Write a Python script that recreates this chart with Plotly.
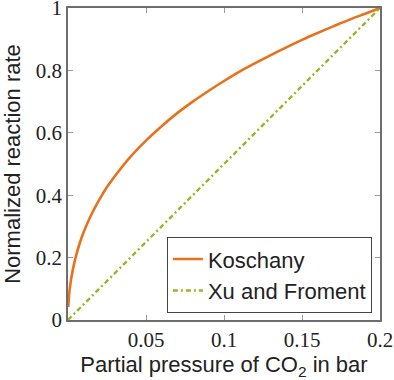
import plotly.graph_objects as go

# Data
koschany_p = [0.0002, 0.0005, 0.001, 0.002, 0.003, 0.005, 0.0075, 0.01, 0.015, 0.02,
              0.025, 0.03, 0.04, 0.05, 0.06, 0.07, 0.08, 0.09, 0.10, 0.11,
              0.12, 0.13, 0.14, 0.15, 0.16, 0.17, 0.18, 0.19, 0.20]
koschany_r = [0.042, 0.067, 0.094, 0.131, 0.159, 0.203, 0.246, 0.281, 0.338, 0.385,
              0.426, 0.461, 0.523, 0.575, 0.621, 0.663, 0.700, 0.734, 0.766, 0.796,
              0.823, 0.849, 0.874, 0.898, 0.920, 0.941, 0.962, 0.981, 1.0]
xu_p = [0.0, 0.2]
xu_r = [0.0, 1.0]

x_tickvals = [0.05, 0.1, 0.15, 0.2]
x_ticktext = ["0.05", "0.1", "0.15", "0.2"]
y_tickvals = [0, 0.2, 0.4, 0.6, 0.8, 1]
y_ticktext = ["0", "0.2", "0.4", "0.6", "0.8", "1"]

fig = go.Figure()
fig.add_trace(go.Scatter(x=koschany_p, y=koschany_r, mode="lines", name="Koschany",
                         line=dict(color="#e8711c", width=2.6, shape="spline", smoothing=0.6)))
fig.add_trace(go.Scatter(x=xu_p, y=xu_r, mode="lines", name="Xu and Froment",
                         line=dict(color="#9bb428", width=2.4, dash="5px,3px,2px,3px")))

axis_common = dict(showgrid=False, zeroline=False, showline=True, linecolor="#6e6e6e",
                   linewidth=1.6, mirror="allticks", ticks="inside", ticklen=5,
                   tickcolor="#9a9a9a", tickwidth=1, ticklabeloverflow="allow",
                   automargin=False,
                   tickfont=dict(family="Liberation Serif", size=21, color="#222"))

fig.update_xaxes(range=[0, 0.2], tickvals=x_tickvals, ticktext=x_ticktext,
                 title=dict(text="Partial pressure of CO<sub>2</sub> in bar",
                            font=dict(family="Liberation Sans", size=22, color="#222")),
                 **axis_common)
fig.update_yaxes(range=[0, 1], tickvals=y_tickvals, ticktext=y_ticktext,
                 title=dict(text="Normalized reaction rate",
                            font=dict(family="Liberation Sans", size=22, color="#222"),
                            standoff=14),
                 **axis_common)

fig.update_layout(
    width=394, height=380,
    margin=dict(l=68, r=14, t=8, b=60),
    paper_bgcolor="white", plot_bgcolor="white",
    showlegend=True,
    legend=dict(x=0.974, y=0.022, xanchor="right", yanchor="bottom",
                bgcolor="white", bordercolor="#444", borderwidth=1,
                font=dict(family="Liberation Sans", size=22, color="#222"),
                tracegroupgap=0),
)

fig.write_html("out.html", config={"displayModeBar": False},
               post_script="document.body.style.margin='0';document.body.style.overflow='hidden';")
